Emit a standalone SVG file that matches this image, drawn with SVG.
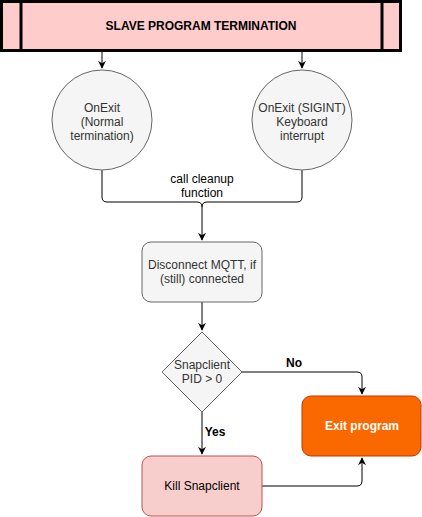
<svg xmlns="http://www.w3.org/2000/svg" width="422" height="517" viewBox="0 0 422 517">
<style>
.t{font-family:"Liberation Sans",Arial,sans-serif;font-size:12px;text-anchor:middle}
.g{fill:#333333}
.e{fill:none;stroke:#000;stroke-width:1}
.n{fill:#f5f5f5;stroke:#666666;stroke-width:1}
</style>
<defs>
<marker id="a" viewBox="0 0 10 10" refX="9" refY="5" markerWidth="8" markerHeight="8" markerUnits="userSpaceOnUse" orient="auto">
<path d="M0,0 L10,5 L0,10 L3,5 Z" fill="#000"/>
</marker>
</defs>
<rect width="422" height="517" fill="#fff"/>
<g id="edges">
<path class="e" d="M102,51 V68" marker-end="url(#a)"/>
<path class="e" d="M302,51 V68" marker-end="url(#a)"/>
<path class="e" d="M102,170 V197 Q102,202 107,202 H197 Q202,202 202,207 V240" marker-end="url(#a)"/>
<path class="e" d="M302,170 V197 Q302,202 297,202 H207 Q202,202 202,207"/>
<path class="e" d="M202,302 V330" marker-end="url(#a)"/>
<path class="e" d="M242,372 H357 Q362,372 362,377 V394" marker-end="url(#a)"/>
<path class="e" d="M202,412 V454" marker-end="url(#a)"/>
<path class="e" d="M262,486 H357 Q362,486 362,481 V458" marker-end="url(#a)"/>
<text class="t" x="202" y="183">call cleanup</text>
<text class="t" x="202" y="197">function</text>
<text class="t" x="294" y="367" font-weight="bold">No</text>
<text class="t" x="215" y="436" font-weight="bold">Yes</text>
</g>
<g id="title">
<rect x="1.5" y="1.5" width="399" height="49" fill="#ffcccc" stroke="#000" stroke-width="3"/>
<line x1="21" y1="1.5" x2="21" y2="50.5" stroke="#000" stroke-width="3"/>
<line x1="382" y1="1.5" x2="382" y2="50.5" stroke="#000" stroke-width="3"/>
<text class="t" x="201" y="30" font-weight="bold">SLAVE PROGRAM TERMINATION</text>
</g>
<g id="onexit-normal">
<circle class="n" cx="102" cy="120" r="50"/>
<text class="t g" x="102" y="112">OnExit</text>
<text class="t g" x="102" y="126">(Normal</text>
<text class="t g" x="102" y="140">termination)</text>
</g>
<g id="onexit-sigint">
<circle class="n" cx="302" cy="120" r="50"/>
<text class="t g" x="302" y="112">OnExit (SIGINT)</text>
<text class="t g" x="302" y="126">Keyboard</text>
<text class="t g" x="302" y="140">interrupt</text>
</g>
<g id="disconnect">
<rect class="n" x="142" y="242" width="120" height="60" rx="9"/>
<text class="t g" x="202" y="269">Disconnect MQTT, if</text>
<text class="t g" x="202" y="283">(still) connected</text>
</g>
<g id="decision">
<path class="n" d="M202,332 L242,372 L202,412 L162,372 Z"/>
<text class="t g" x="202" y="369">Snapclient</text>
<text class="t g" x="202" y="383">PID &gt; 0</text>
</g>
<g id="exit">
<rect x="302" y="396" width="119" height="60" rx="9" fill="#fa6800" stroke="#c73500"/>
<text class="t" x="362" y="430" fill="#fff" font-weight="bold">Exit program</text>
</g>
<g id="kill">
<rect x="142" y="456" width="120" height="60" rx="9" fill="#f8cecc" stroke="#b85450"/>
<text class="t" x="202" y="490" fill="#000">Kill Snapclient</text>
</g>
</svg>
